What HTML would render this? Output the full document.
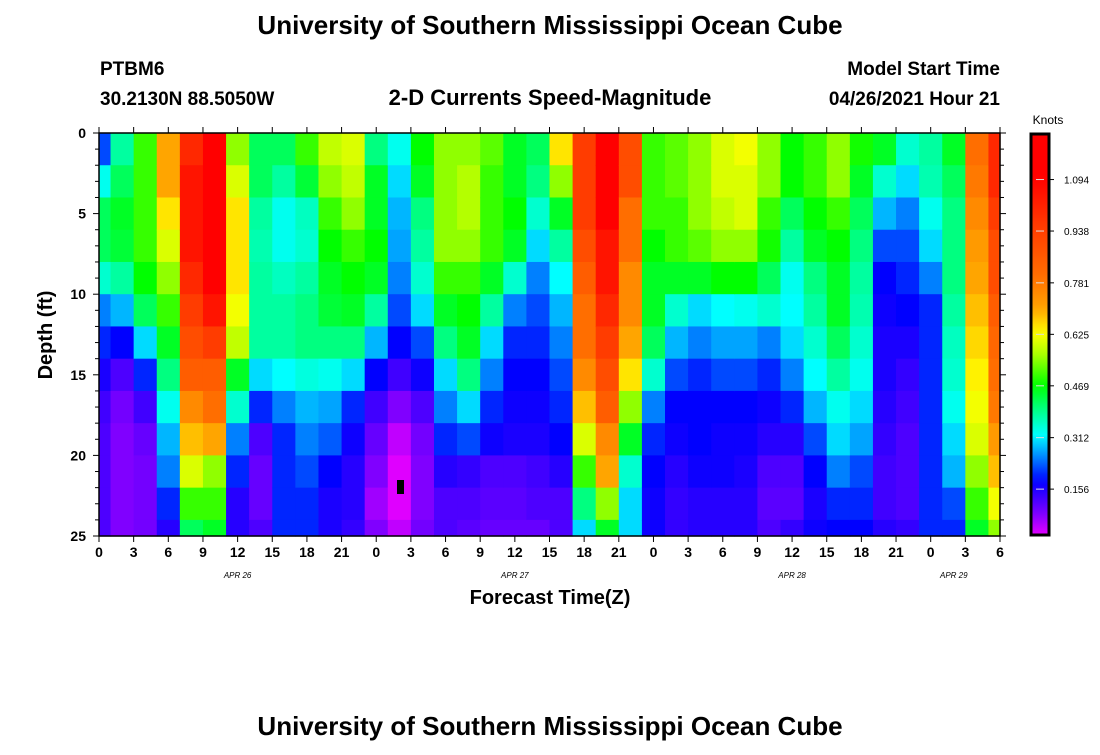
<!DOCTYPE html>
<html><head><meta charset="utf-8"><style>
body{margin:0;background:#fff;}
svg text{font-family:"Liberation Sans",sans-serif;}
</style></head><body>
<svg id="chart" width="1100" height="750" xmlns="http://www.w3.org/2000/svg">
<rect width="1100" height="750" fill="#fff"/>
<text x="550" y="34" text-anchor="middle" font-size="26" font-weight="bold">University of Southern Mississippi Ocean Cube</text>
<text x="100" y="75" font-size="19" font-weight="bold">PTBM6</text>
<text x="100" y="105" font-size="19" font-weight="bold">30.2130N  88.5050W</text>
<text x="550" y="105" text-anchor="middle" font-size="22" font-weight="bold">2-D Currents Speed-Magnitude</text>
<text x="1000" y="75" text-anchor="end" font-size="19" font-weight="bold">Model Start Time</text>
<text x="1000" y="105" text-anchor="end" font-size="19" font-weight="bold">04/26/2021 Hour 21</text>
<g id="cells"></g>
<rect x="397" y="480" width="7" height="14" fill="#000"/>
<rect x="99" y="133" width="901" height="403" fill="none" stroke="#000" stroke-width="1.5"/>
<g id="axes"></g>
<text x="550" y="604" text-anchor="middle" font-size="20" font-weight="bold">Forecast Time(Z)</text>
<text transform="translate(52,335) rotate(-90)" text-anchor="middle" font-size="20" font-weight="bold">Depth (ft)</text>
<defs><linearGradient id="cg" x1="0" y1="1" x2="0" y2="0"></linearGradient></defs>
<text x="1048" y="124" text-anchor="middle" font-size="12">Knots</text>
<rect x="1031" y="134" width="18" height="401" fill="url(#cg)" stroke="#000" stroke-width="3"/>
<g id="cbticks"></g>
<text x="550" y="735" text-anchor="middle" font-size="26" font-weight="bold">University of Southern Mississippi Ocean Cube</text>
</svg>
<script>
const hours = [0,2,4,6,8,10,12,14,16,18,20,22,24,26,28,30,32,34,36,38,40,42,44,46,48,50,52,54,56,58,60,62,64,66,68,70,72,74,76,78];
const depthBands = [0,2,4,6,8,10,12,14,16,18,20,22,24];
const speeds = [
[0.22,0.33,0.42,0.42,0.35,0.25,0.2,0.16,0.13,0.12,0.12,0.12,0.12],
[0.38,0.42,0.45,0.44,0.38,0.28,0.18,0.12,0.09,0.08,0.08,0.08,0.08],
[0.5,0.5,0.5,0.5,0.47,0.42,0.3,0.2,0.13,0.1,0.09,0.09,0.09],
[0.7,0.7,0.65,0.6,0.55,0.5,0.45,0.4,0.33,0.28,0.25,0.2,0.15],
[1.0,1.05,1.05,1.05,1.0,0.95,0.9,0.85,0.75,0.68,0.6,0.5,0.42],
[1.1,1.1,1.1,1.1,1.1,1.05,0.95,0.85,0.8,0.7,0.55,0.5,0.45],
[0.55,0.6,0.65,0.65,0.65,0.62,0.58,0.45,0.35,0.25,0.2,0.15,0.15],
[0.42,0.42,0.38,0.37,0.38,0.38,0.38,0.3,0.2,0.12,0.1,0.1,0.12],
[0.42,0.38,0.33,0.33,0.36,0.38,0.38,0.32,0.25,0.2,0.2,0.2,0.2],
[0.5,0.44,0.36,0.35,0.38,0.4,0.4,0.34,0.28,0.25,0.22,0.2,0.2],
[0.58,0.55,0.5,0.47,0.45,0.44,0.4,0.33,0.27,0.23,0.18,0.16,0.16],
[0.6,0.58,0.55,0.5,0.47,0.45,0.4,0.3,0.2,0.17,0.15,0.15,0.14],
[0.4,0.45,0.45,0.47,0.45,0.38,0.28,0.18,0.13,0.1,0.08,0.06,0.08],
[0.33,0.3,0.28,0.27,0.25,0.22,0.18,0.13,0.08,0.04,0.02,0.02,0.04],
[0.47,0.45,0.4,0.38,0.35,0.3,0.22,0.17,0.12,0.09,0.08,0.08,0.09],
[0.55,0.55,0.55,0.55,0.5,0.45,0.4,0.3,0.25,0.2,0.15,0.12,0.12],
[0.55,0.57,0.57,0.55,0.5,0.47,0.45,0.4,0.3,0.22,0.14,0.12,0.11],
[0.52,0.5,0.5,0.5,0.45,0.38,0.3,0.25,0.2,0.17,0.12,0.11,0.1],
[0.45,0.45,0.47,0.45,0.35,0.25,0.2,0.18,0.17,0.16,0.12,0.11,0.1],
[0.42,0.4,0.35,0.3,0.25,0.22,0.2,0.18,0.17,0.16,0.13,0.12,0.1],
[0.65,0.55,0.45,0.38,0.32,0.28,0.25,0.22,0.2,0.18,0.15,0.12,0.12],
[0.95,0.95,0.95,0.9,0.85,0.8,0.8,0.75,0.68,0.6,0.5,0.4,0.3],
[1.1,1.1,1.1,1.05,1.05,1.0,0.95,0.9,0.85,0.75,0.7,0.55,0.45],
[0.9,0.9,0.8,0.8,0.75,0.75,0.7,0.65,0.55,0.45,0.35,0.3,0.3],
[0.5,0.5,0.5,0.47,0.45,0.45,0.42,0.35,0.25,0.2,0.18,0.17,0.17],
[0.52,0.52,0.5,0.5,0.45,0.35,0.28,0.22,0.18,0.17,0.15,0.14,0.14],
[0.55,0.55,0.55,0.52,0.45,0.3,0.25,0.2,0.18,0.18,0.17,0.15,0.15],
[0.6,0.6,0.58,0.55,0.47,0.32,0.27,0.22,0.18,0.17,0.17,0.15,0.15],
[0.62,0.6,0.6,0.55,0.47,0.33,0.27,0.22,0.18,0.17,0.16,0.15,0.15],
[0.55,0.55,0.5,0.48,0.42,0.35,0.25,0.2,0.17,0.15,0.12,0.11,0.12],
[0.47,0.47,0.42,0.38,0.33,0.32,0.3,0.25,0.2,0.15,0.12,0.11,0.14],
[0.5,0.5,0.47,0.45,0.4,0.38,0.35,0.32,0.28,0.22,0.18,0.16,0.17],
[0.55,0.55,0.5,0.47,0.45,0.45,0.42,0.38,0.33,0.3,0.25,0.2,0.18],
[0.48,0.45,0.42,0.4,0.38,0.37,0.35,0.33,0.3,0.27,0.22,0.2,0.18],
[0.45,0.35,0.28,0.22,0.18,0.17,0.16,0.16,0.15,0.14,0.13,0.13,0.15],
[0.35,0.3,0.25,0.22,0.2,0.18,0.16,0.14,0.13,0.12,0.12,0.12,0.14],
[0.38,0.37,0.33,0.3,0.25,0.2,0.2,0.2,0.2,0.2,0.2,0.2,0.2],
[0.45,0.42,0.4,0.4,0.4,0.38,0.36,0.35,0.33,0.3,0.28,0.22,0.2],
[0.8,0.78,0.75,0.72,0.7,0.68,0.66,0.64,0.62,0.6,0.55,0.5,0.45],
[1.0,1.0,0.95,0.9,0.9,0.85,0.82,0.8,0.78,0.72,0.68,0.62,0.55]
];
const yTicks = [0,5,10,15,20,25];
const xTickLabels = ["0","3","6","9","12","15","18","21","0","3","6","9","12","15","18","21","0","3","6","9","12","15","18","21","0","3","6"];
const dayLabels = ["APR 26","APR 27","APR 28","APR 29"];
const dayLabelHours = [12,36,60,74];
const cbTicks = ["0.156","0.312","0.469","0.625","0.781","0.938","1.094"];

const NS="http://www.w3.org/2000/svg";
const X0=99,X1=1000,Y0=133,Y1=536,HMAX=78,DMAX=25;
const xs=h=>X0+(h/HMAX)*(X1-X0);
const ys=d=>Y0+(d/DMAX)*(Y1-Y0);
const stops=[[0,[255,0,255]],[0.08,[128,0,255]],[0.18,[0,0,255]],[0.25,[0,128,255]],[0.32,[0,255,255]],[0.40,[0,255,128]],[0.47,[0,255,0]],[0.57,[180,255,0]],[0.63,[255,255,0]],[0.70,[255,165,0]],[0.80,[255,110,0]],[0.95,[255,60,0]],[1.1,[255,0,0]]];
function color(v){
  if(v<=stops[0][0])return 'rgb(255,0,255)';
  for(let i=1;i<stops.length;i++){
    if(v<=stops[i][0]){const a=stops[i-1],b=stops[i];const t=(v-a[0])/(b[0]-a[0]);
      return 'rgb('+a[1].map((c,k)=>Math.round(c+(b[1][k]-c)*t)).join(',')+')';}
  }
  return 'rgb(255,0,0)';
}
function mk(tag,attrs,parent){const e=document.createElementNS(NS,tag);for(const k in attrs)e.setAttribute(k,attrs[k]);parent.appendChild(e);return e;}
const cells=document.getElementById('cells');
hours.forEach((h,i)=>{
  const xa=Math.max(X0,xs(h-1)), xb=Math.min(X1,xs(h+1));
  depthBands.forEach((d,j)=>{
    const ya=ys(d), yb=Math.min(Y1,ys(d+2));
    const r=mk('rect',{x:xa,y:ya,width:xb-xa+0.6,height:yb-ya+0.6,fill:color(speeds[i][j])},cells);
    
    
  });
});
const axes=document.getElementById('axes');
for(let d=0;d<=DMAX;d++){
  const y=ys(d),len=d%5===0?6:4;
  mk('line',{x1:X0-len,y1:y,x2:X0,y2:y,stroke:'#000'},axes);
  mk('line',{x1:X1,y1:y,x2:X1+len,y2:y,stroke:'#000'},axes);
}
yTicks.forEach(d=>{
  const t=mk('text',{x:86,y:ys(d)+5,'text-anchor':'end','font-size':14,'font-weight':'bold'},axes);
  t.textContent=d;
  
  
});
xTickLabels.forEach((lab,i)=>{
  const x=xs(i*3);
  mk('line',{x1:x,y1:Y1,x2:x,y2:Y1+6,stroke:'#000'},axes);
  mk('line',{x1:x,y1:Y0-6,x2:x,y2:Y0,stroke:'#000'},axes);
  const t=mk('text',{x:x,y:Y1+21,'text-anchor':'middle','font-size':14,'font-weight':'bold'},axes);
  t.textContent=lab;
  
  
});
dayLabels.forEach((lab,i)=>{
  const t=mk('text',{x:xs(dayLabelHours[i]),y:578,'text-anchor':'middle','font-size':8,'font-style':'italic','font-family':'Liberation Serif, serif'},axes);
  t.textContent=lab;
  
  
});
const CBV0=0.017,CBV1=1.232;
const cy=v=>535-(v-CBV0)/(CBV1-CBV0)*401;
const g=document.getElementById('cg');
for(let k=0;k<=40;k++){const v=CBV0+(CBV1-CBV0)*k/40;mk('stop',{offset:(k/40),'stop-color':color(v)},g);}
const cbt=document.getElementById('cbticks');
cbTicks.forEach(s=>{
  const v=parseFloat(s),y=cy(v);
  mk('line',{x1:1036,y1:y,x2:1044,y2:y,stroke:'#ddd','stroke-width':1},cbt);
  mk('line',{x1:1049,y1:y,x2:1054,y2:y,stroke:'#000'},cbt);
  const t=mk('text',{x:1064,y:y+4,'font-size':10},cbt);
  t.textContent=s;
  
  
});
</script>
</body></html>
